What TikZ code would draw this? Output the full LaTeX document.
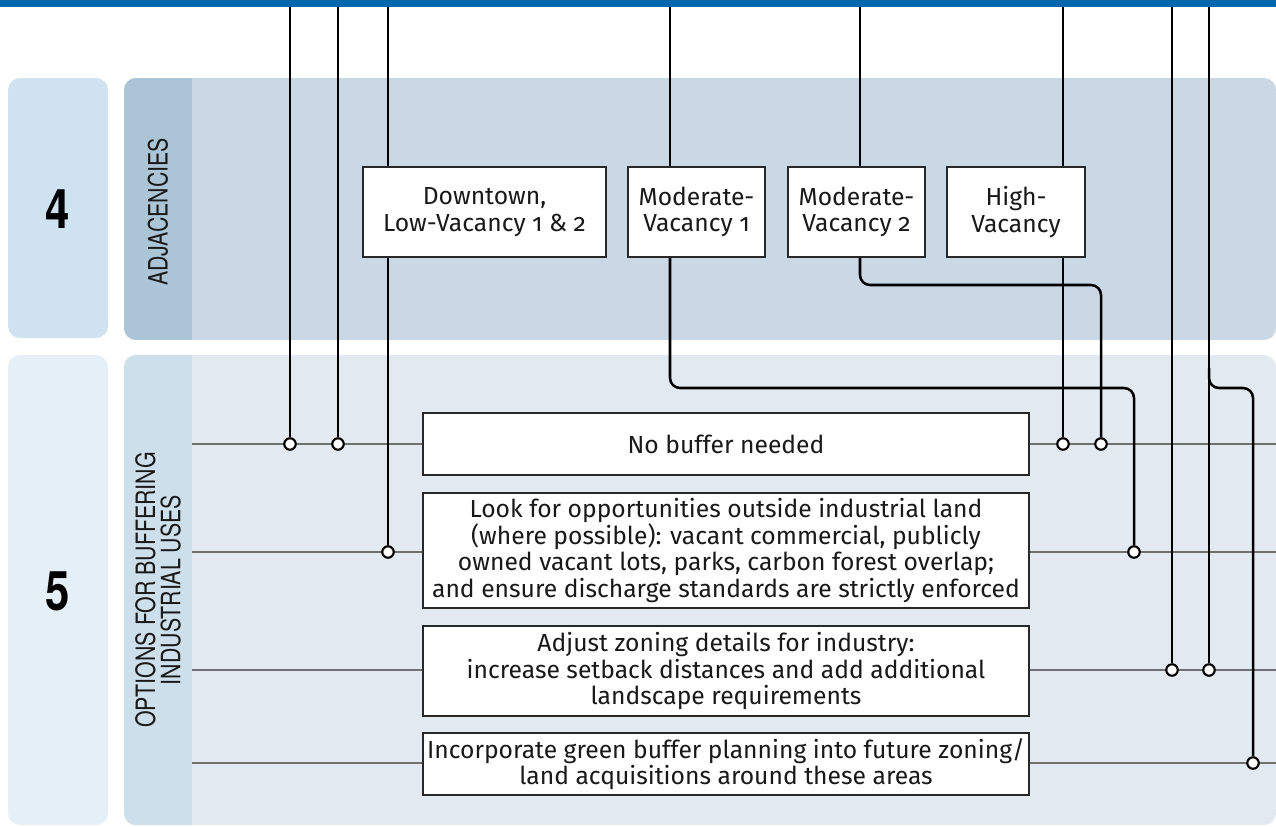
\documentclass[tikz,border=0pt]{standalone}
\usepackage{fontspec}
\setmainfont{Fira Sans}[Numbers=OldStyle]
\newfontfamily\condfont[FakeStretch=0.8]{TeX Gyre Heros}
\newcommand\bxfont{\fontsize{18.5pt}{20pt}\selectfont}
\definecolor{topblue}{RGB}{0,103,172}
\definecolor{pfourleft}{RGB}{206,226,239}
\definecolor{pfourmain}{RGB}{201,216,228}
\definecolor{pfourstrip}{RGB}{171,197,215}
\definecolor{pfiveleft}{RGB}{229,239,247}
\definecolor{pfivemain}{RGB}{226,233,240}
\definecolor{pfivestrip}{RGB}{206,223,236}
\definecolor{rowgray}{RGB}{112,112,112}
\definecolor{boxline}{RGB}{40,40,40}
\tikzset{
  box/.style={draw=boxline, line width=1.1pt, fill=white, inner sep=0pt, align=center, font=\bxfont, text=black!90},
  row/.style={draw=rowgray, line width=1.6pt},
  wire/.style={draw=black, line width=1.9pt},
  route/.style={wire, rounded corners=7.5pt},
  dot/.style={circle, draw=black, line width=1.6pt, fill=white, minimum size=8.6pt, inner sep=0pt},
  numlabel/.style={font=\condfont\bfseries\fontsize{41pt}{41pt}\selectfont, text=black},
  sidelabel/.style={font=\condfont\fontsize{20pt}{19pt}\selectfont, text=black!90, align=center, rotate=90}
}
\begin{document}
\begin{tikzpicture}[x=0.75pt,y=-0.75pt]
\useasboundingbox (0,0) rectangle (1276,826);
% top bar
\fill[topblue] (0,0) rectangle (1276,7);
% panel 4
\fill[pfourleft, rounded corners=9pt] (8,78) rectangle (108,338);
\begin{scope}
  \clip[rounded corners=9pt] (124,78) rectangle (1276,340);
  \fill[pfourmain] (124,78) rectangle (1276,340);
  \fill[pfourstrip] (124,78) rectangle (192,340);
\end{scope}
% panel 5
\fill[pfiveleft, rounded corners=9pt] (8,355) rectangle (108,825);
\begin{scope}
  \clip[rounded corners=9pt] (124,355) rectangle (1276,825);
  \fill[pfivemain] (124,355) rectangle (1276,825);
  \fill[pfivestrip] (124,355) rectangle (192,825);
\end{scope}
% labels
\node[numlabel] (n4) at (58,209) {4};
\node[numlabel] (n5) at (58,591) {5};
\node[sidelabel] (adj) at (158,212) {ADJACENCIES};
\node[sidelabel] (opt) at (158,590) {OPTIONS FOR BUFFERING\\INDUSTRIAL USES};
% rows
\coordinate (r1a) at (192,444); \coordinate (r1b) at (1276,444);
\coordinate (r2a) at (192,552); \coordinate (r2b) at (1276,552);
\coordinate (r3a) at (192,670); \coordinate (r3b) at (1276,670);
\coordinate (r4a) at (192,763); \coordinate (r4b) at (1276,763);
\draw[row] (r1a) -- (r1b);
\draw[row] (r2a) -- (r2b);
\draw[row] (r3a) -- (r3b);
\draw[row] (r4a) -- (r4b);
% option boxes
\node[box, minimum width=454.5pt, minimum height=46.5pt] (nb) at (726,444) {No buffer needed};
\node[box, minimum width=454.5pt, minimum height=86.25pt] (lf) at (726,550.5) {Look for opportunities outside industrial land\\(where possible): vacant commercial, publicly\\owned vacant lots, parks, carbon forest overlap;\\and ensure discharge standards are strictly enforced};
\node[box, minimum width=454.5pt, minimum height=67.5pt] (az) at (726,671) {Adjust zoning details for industry:\\increase setback distances and add additional\\landscape requirements};
\node[box, minimum width=454.5pt, minimum height=46.5pt] (ig) at (726,764) {Incorporate green buffer planning into future zoning/\\land acquisitions around these areas};
% adjacency boxes
\node[box, minimum width=182.25pt, minimum height=67.5pt] (dt) at (484.5,212) {Downtown,\\Low-Vacancy 1 \& 2};
\node[box, minimum width=102.75pt, minimum height=67.5pt] (mv1) at (696.5,212) {Moderate-\\Vacancy 1};
\node[box, minimum width=102.75pt, minimum height=67.5pt] (mv2) at (856.5,212) {Moderate-\\Vacancy 2};
\node[box, minimum width=103.5pt, minimum height=67.5pt] (hv) at (1016,212) {High-\\Vacancy};
% top ends
\coordinate (t1) at (290,7);
\coordinate (t2) at (338,7);
\coordinate (t3) at (388,7);
\coordinate (t4) at (670,7);
\coordinate (t5) at (860,7);
\coordinate (t6) at (1063,7);
\coordinate (t7) at (1172,7);
\coordinate (t8) at (1209,7);
% junction dots
\node[dot] (c1) at (290,444) {};
\node[dot] (c2) at (338,444) {};
\node[dot] (c3) at (388,552) {};
\node[dot] (c4) at (1134,552) {};
\node[dot] (c5) at (1101,444) {};
\node[dot] (c6) at (1063,444) {};
\node[dot] (c7) at (1172,670) {};
\node[dot] (c8) at (1209,670) {};
\node[dot] (c9) at (1253,763) {};
% bends
\coordinate (k4) at (1134,388);
\coordinate (k5) at (1101,285);
\coordinate (b8) at (1209,368);
\coordinate (k9) at (1253,388);
% connectors
\draw[wire] (t1) -- (c1);
\draw[wire] (t2) -- (c2);
\draw[wire] (t3) -- (t3 |- dt.north);
\draw[wire] (t3 |- dt.south) -- (c3);
\draw[wire] (t4) -- (t4 |- mv1.north);
\draw[route] (t4 |- mv1.south) |- (k4) -- (c4);
\draw[wire] (t5) -- (t5 |- mv2.north);
\draw[route] (t5 |- mv2.south) |- (k5) -- (c5);
\draw[wire] (t6) -- (t6 |- hv.north);
\draw[wire] (t6 |- hv.south) -- (c6);
\draw[wire] (t7) -- (c7);
\draw[wire] (t8) -- (c8);
\draw[route] (b8) |- (k9) -- (c9);
\end{tikzpicture}
\end{document}
